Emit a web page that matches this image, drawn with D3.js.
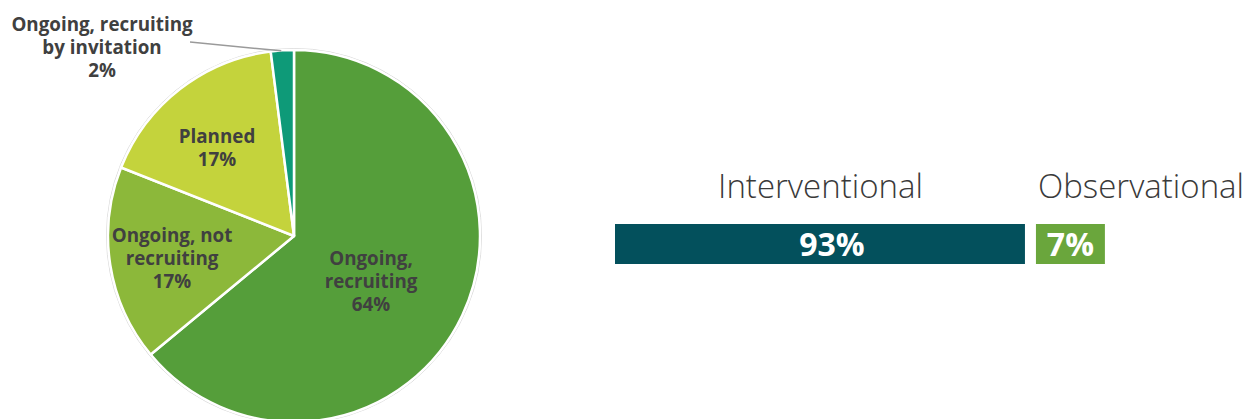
<!DOCTYPE html>
<html>
<head>
<meta charset="utf-8">
<script src="https://cdn.jsdelivr.net/npm/d3@7"></script>
<style>
  html, body { margin: 0; padding: 0; background: #fff; }
  svg { display: block; }
  .lbl { font-family: "Open Sans", "DejaVu Sans", sans-serif; font-weight: 700; fill: #404040; }
  .ttl { font-family: "Open Sans", "DejaVu Sans", sans-serif; font-weight: 300; fill: #3a3a3a; }
</style>
</head>
<body>
<svg id="chart" width="1246" height="419"></svg>
<script>
// Trial status breakdown (pie)
const statusNames = ["Ongoing, recruiting", "Ongoing, not recruiting", "Planned", "Ongoing, recruiting by invitation"];
const statusLines = [["Ongoing,", "recruiting"], ["Ongoing, not", "recruiting"], ["Planned"], ["Ongoing, recruiting", "by invitation"]];
const statusValues = [64, 17, 17, 2];
const statusColors = ["#559e3a", "#8cb83a", "#c4d33c", "#0e9a78"];

// Study type breakdown (bars)
const typeNames = ["Interventional", "Observational"];
const typeValues = [93, 7];
const typeColors = ["#03505c", "#6aa63c"];

const svg = d3.select("#chart");

// ---- pie ----
const cx = 294, cy = 236, R = 186;
const pie = d3.pie().sort(null).value(d => d)(statusValues);
const arc = d3.arc().innerRadius(0).outerRadius(R);
const g = svg.append("g").attr("transform", `translate(${cx},${cy})`);

// faint outer rim
g.append("circle").attr("r", R + 1.5).attr("fill", "none").attr("stroke", "#d8d8d8").attr("stroke-width", 1);

g.selectAll("path.slice").data(pie).join("path")
  .attr("class", "slice")
  .attr("d", arc)
  .attr("fill", (d, i) => statusColors[i])
  .attr("stroke", "#fff")
  .attr("stroke-width", 2.5)
  .attr("stroke-linejoin", "round");

// label anchor positions (first baseline) relative to pie centre
const labelPos = [[77, 29], [-122, 6], [-77, -93], [-192, -205]];
const lineH = 23.2;

pie.forEach((d, i) => {
  const lines = statusLines[i].concat([d.value + "%"]);
  const [lx, ly] = labelPos[i];
  const t = g.append("text").attr("class", "lbl")
    .attr("text-anchor", "middle")
    .attr("font-size", 18.8)
    .attr("x", lx).attr("y", ly);
  lines.forEach((s, k) => {
    t.append("tspan").attr("x", lx).attr("dy", k === 0 ? 0 : lineH).text(s);
  });
});

// leader line for the small slice
{
  const d = pie[3];
  const mid = (d.startAngle + d.endAngle) / 2;
  const ex = Math.sin(mid) * (R + 1) - 1, ey = -Math.cos(mid) * (R - 0.5);
  g.append("line")
    .attr("x1", -104).attr("y1", -194)
    .attr("x2", ex).attr("y2", ey)
    .attr("stroke", "#9a9a9a").attr("stroke-width", 1.5);
}

// ---- bars ----
const barY = 224, barH = 40, gap = 11, x0 = 615;
// widths carry a base allowance so the small segment can hold its label
const w = d3.scaleLinear().domain([0, 100]).range([41.2, 41.2 + 396.5]);
let xs = x0;
const bars = typeValues.map((v, i) => {
  const b = { v, x: xs, w: w(v), name: typeNames[i], color: typeColors[i] };
  xs += b.w + gap;
  return b;
});
const valueShift = [12, 0];

const bg = svg.append("g");
bg.selectAll("rect").data(bars).join("rect")
  .attr("x", d => d.x).attr("y", barY)
  .attr("width", d => d.w).attr("height", barH)
  .attr("fill", d => d.color);

bg.selectAll("text.val").data(bars).join("text")
  .attr("class", "lbl val")
  .attr("x", (d, i) => d.x + d.w / 2 + valueShift[i]).attr("y", 255.7)
  .attr("text-anchor", "middle")
  .attr("font-size", 32)
  .style("fill", "#fff")
  .text(d => d.v + "%");

bg.selectAll("text.ttl").data(bars).join("text")
  .attr("class", "ttl")
  .attr("x", (d, i) => i === 0 ? 820.5 : d.x + 2)
  .attr("y", 198)
  .attr("text-anchor", (d, i) => i === 0 ? "middle" : "start")
  .attr("font-size", 33)
  .text(d => d.name);
</script>
</body>
</html>
